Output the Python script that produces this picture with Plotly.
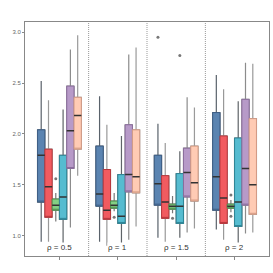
import plotly.graph_objects as go

groups = [1, 2, 3, 4]
group_labels = ["ρ = 0.5", "ρ = 1", "ρ = 1.5", "ρ = 2"]
series = ["blue", "red", "green", "cyan", "purple", "peach"]

q1 = {
    "blue":   [1.33, 1.29, 1.30, 1.25],
    "red":    [1.18, 1.16, 1.17, 1.12],
    "green":  [1.25, 1.27, 1.26, 1.27],
    "cyan":   [1.16, 1.12, 1.12, 1.09],
    "purple": [1.66, 1.43, 1.38, 1.30],
    "peach":  [1.85, 1.42, 1.34, 1.21],
}
median = {
    "blue":   [1.79, 1.41, 1.51, 1.58],
    "red":    [1.48, 1.25, 1.33, 1.37],
    "green":  [1.30, 1.30, 1.29, 1.29],
    "cyan":   [1.38, 1.19, 1.29, 1.33],
    "purple": [2.03, 1.60, 1.62, 1.66],
    "peach":  [2.18, 1.58, 1.52, 1.50],
}
q3 = {
    "blue":   [2.04, 1.88, 1.79, 2.21],
    "red":    [1.85, 1.65, 1.59, 1.98],
    "green":  [1.36, 1.34, 1.31, 1.31],
    "cyan":   [1.79, 1.60, 1.61, 1.96],
    "purple": [2.47, 2.09, 1.86, 2.34],
    "peach":  [2.36, 2.04, 1.88, 2.15],
}
lower = {
    "blue":   [0.94, 0.94, 0.98, 1.06],
    "red":    [0.94, 0.90, 0.94, 0.96],
    "green":  [1.14, 1.24, 1.22, 1.23],
    "cyan":   [0.90, 0.88, 0.98, 0.91],
    "purple": [1.08, 0.96, 1.03, 1.02],
    "peach":  [1.59, 1.09, 1.07, 1.03],
}
upper = {
    "blue":   [2.52, 2.37, 2.10, 2.58],
    "red":    [2.33, 2.09, 1.91, 2.44],
    "green":  [1.42, 1.42, 1.39, 1.35],
    "cyan":   [2.24, 1.98, 1.83, 2.32],
    "purple": [2.83, 2.78, 2.36, 2.70],
    "peach":  [2.97, 2.85, 2.26, 2.69],
}
# outliers: (group, series, value)
outlier_group = [1, 2, 3, 3, 3, 4, 4]
outlier_series = ["green", "green", "blue", "cyan", "green", "green", "green"]
outlier_value = [1.56, 1.18, 2.95, 2.77, 1.17, 1.40, 1.19]

fill = {"blue": "#5B84B1", "red": "#F15B60", "green": "#84CF84",
        "cyan": "#56BCD0", "purple": "#B79AC8", "peach": "#FFCBB4"}
edge = {"blue": "#3E5F86", "red": "#B8383D", "green": "#4F8F4F",
        "cyan": "#2F8697", "purple": "#8A6D9C", "peach": "#D49B84"}
whisk = {"blue": "#5A626B", "red": "#999999", "green": "#777777",
         "cyan": "#5F6468", "purple": "#8C8C8C", "peach": "#9A9A9A"}

BOX_W = 0.125

fig = go.Figure()
# layer 1: whiskers + box
for s in series:
    fig.add_trace(go.Box(
        x=groups, q1=q1[s], median=median[s], q3=q3[s],
        lowerfence=lower[s], upperfence=upper[s],
        fillcolor=fill[s], line=dict(color=whisk[s], width=1.2),
        whiskerwidth=0, offsetgroup=s, alignmentgroup="a",
        boxpoints=False, showlegend=False, hoverinfo="skip"))
# layer 2: box outline
for s in series:
    fig.add_trace(go.Box(
        x=groups, q1=q1[s], median=q1[s], q3=q3[s],
        lowerfence=q1[s], upperfence=q3[s],
        fillcolor=fill[s], line=dict(color=edge[s], width=1),
        whiskerwidth=0, offsetgroup=s, alignmentgroup="a",
        boxpoints=False, showlegend=False, hoverinfo="skip"))
# layer 3: median
for s in series:
    fig.add_trace(go.Box(
        x=groups, q1=median[s], median=median[s], q3=median[s],
        lowerfence=median[s], upperfence=median[s],
        fillcolor="rgba(0,0,0,0)", line=dict(color="#333333", width=1.5),
        whiskerwidth=0, offsetgroup=s, alignmentgroup="a",
        boxpoints=False, showlegend=False, hoverinfo="skip"))

ox = [g + (series.index(s) - (len(series) - 1) / 2) * BOX_W
      for g, s in zip(outlier_group, outlier_series)]
fig.add_trace(go.Scatter(x=ox, y=outlier_value, mode="markers",
                         marker=dict(color="#777777", size=3),
                         showlegend=False, hoverinfo="skip"))

for g in groups[:-1]:
    fig.add_shape(type="line", x0=g + 0.5, x1=g + 0.5, y0=0, y1=1,
                  xref="x", yref="paper",
                  line=dict(color="#999999", width=1, dash="1px,1px"))

for g, lab in zip(groups, group_labels):
    fig.add_annotation(x=g, y=0.885, text=lab, showarrow=False,
                       bgcolor="white", borderpad=0,
                       font=dict(size=8, color="#333333",
                                 family="Liberation Sans, Arial"))

fig.update_layout(
    width=273, height=273,
    margin=dict(l=25, r=4, t=22, b=17),
    paper_bgcolor="white", plot_bgcolor="white",
    boxmode="group", boxgap=0.25, boxgroupgap=0,
    font=dict(family="Liberation Sans, Arial", size=6, color="#555555"),
)
fig.update_xaxes(range=[0.41, 4.59], tickvals=groups, showticklabels=False,
                 ticks="outside", ticklen=3, tickcolor="#888888",
                 showgrid=False, zeroline=False, showline=True,
                 linecolor="#888888", linewidth=1, mirror=True)
fig.update_yaxes(range=[0.80, 3.10], tickvals=[1.0, 1.5, 2.0, 2.5, 3.0],
                 ticktext=["1.0", "1.5", "2.0", "2.5", "3.0"],
                 ticks="outside", ticklen=2, tickcolor="#888888",
                 tickfont=dict(size=6, color="#666666"),
                 showgrid=False, zeroline=False, showline=True,
                 linecolor="#888888", linewidth=1, mirror=True)

fig.write_html("out.html",
               config={"displayModeBar": False},
               post_script="document.body.style.margin='0';"
                           "document.body.style.overflow='hidden';")
